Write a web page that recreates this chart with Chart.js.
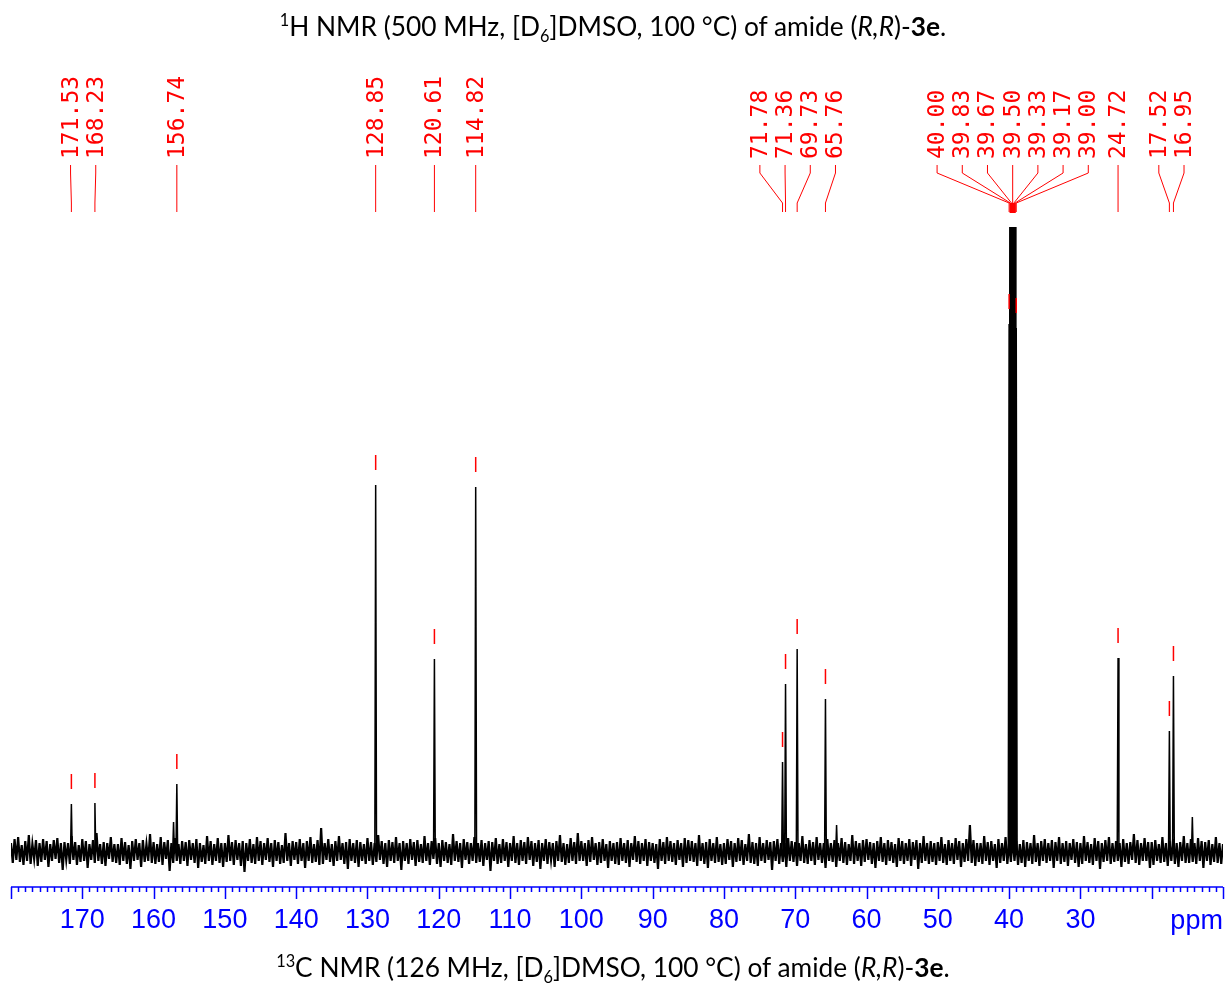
<!DOCTYPE html>
<html>
<head>
<meta charset="utf-8">
<title>13C NMR spectrum</title>
<script src="https://cdn.jsdelivr.net/npm/chart.js@4/dist/chart.umd.min.js"></script>
<style>
  html, body { margin: 0; padding: 0; background: #fff; }
  #wrap { position: relative; width: 1226px; height: 985px; overflow: hidden; }
  #chart { position: absolute; left: 0; top: 0; }
  .cap { position: absolute; left: 0; width: 1226px; text-align: center; white-space: nowrap;
         font-family: Lato, "Open Sans", sans-serif; font-size: 26.3px; color: #000; }
  .cap sup, .cap sub { font-size: 0.62em; line-height: 0; }
</style>
</head>
<body>
<div id="wrap">
  <canvas id="chart" width="1226" height="985"></canvas>
  <div class="cap" style="top:10px"><sup>1</sup>H NMR (500 MHz, [D<sub>6</sub>]DMSO, 100 °C) of amide (<i>R,R</i>)-<b>3e</b>.</div>
  <div class="cap" style="top:951px"><sup>13</sup>C NMR (126 MHz, [D<sub>6</sub>]DMSO, 100 °C) of amide (<i>R,R</i>)-<b>3e</b>.</div>
</div>
<script>
// picked peaks (ppm) and their heights above the baseline (arbitrary units)
const shifts  = [171.53, 168.23, 156.74, 128.85, 120.61, 114.82, 71.78, 71.36, 69.73, 65.76,
                 40.00, 39.83, 39.67, 39.50, 39.33, 39.17, 39.00, 24.72, 17.52, 16.95];
const heights = [48, 49, 68, 367, 193, 365, 90, 168, 203, 153,
                 528, 1590, 3180, 3710, 3180, 1590, 524, 194, 121, 176];

// small unpicked signals
const minorShifts  = [157.2, 64.2, 14.3];
const minorHeights = [30, 27, 35];

// baseline trace from 180 ppm downwards, one value every 0.25 ppm
const noiseStart = 180;
const noiseStep = 0.25;
const noise = [
  9,-11,13,-8,15,-10,7,-13,11,-9,17,-12,8,-7,12,-14,9,-10,13,-8,
  11,-15,8,-9,12,-7,14,-11,9,-18,10,-8,9,-12,16,-8,10,-13,7,-10,
  13,-9,11,-16,8,-8,12,-11,19,-9,8,-12,10,-14,9,-7,15,-10,8,-11,
  8,-13,14,-9,10,-12,7,-17,11,-9,13,-8,9,-15,12,-10,8,-9,18,-11,
  10,-12,8,-10,15,-13,10,-7,12,-19,9,-11,14,-9,8,-12,11,-9,10,-14,
  12,-8,9,-11,13,-16,9,-10,7,-12,16,-9,11,-13,8,-9,14,-11,9,-15,
  9,-10,17,-9,10,-13,12,-8,9,-14,11,-20,9,-9,13,-11,8,-12,15,-9,
  11,-13,9,-8,14,-10,9,-15,12,-9,10,-12,7,-11,19,-9,9,-14,11,-8,
  10,-12,13,-9,9,-16,11,-9,15,-11,8,-10,12,-13,24,-12,9,-8,13,-10,
  8,-14,11,-9,16,-8,9,-12,10,-17,13,-9,9,-11,12,-15,10,-9,8,-12,
  14,-9,10,-13,9,-10,17,-8,11,-12,9,-15,12,-9,10,-11,15,-9,9,-18,
  11,-9,9,-12,13,-8,10,-14,12,-10,8,-11,16,-9,9,-13,11,-7,14,-12,
  9,-15,12,-9,10,-11,8,-13,18,-9,11,-10,9,-16,13,-8,10,-12,9,-9,
  15,-11,9,-10,12,-14,9,-8,11,-19,10,-9,14,-12,8,-11,13,-9,10,-15,
  9,-9,16,-11,9,-13,12,-9,10,-12,15,-8,11,-14,9,-10,12,-17,9,-9,
  13,-12,10,-8,9,-15,11,-9,17,-10,9,-13,8,-11,14,-9,10,-12,19,-9,
  11,-9,9,-14,12,-10,15,-8,9,-13,10,-11,13,-9,8,-16,11,-9,9,-12,
  10,-13,14,-9,9,-11,12,-15,9,-8,16,-10,11,-12,9,-9,13,-14,10,-9,
  9,-11,8,-17,13,-9,10,-12,15,-9,11,-10,9,-13,12,-8,9,-15,14,-11,
  12,-9,11,-10,9,-14,17,-9,9,-12,10,-16,13,-9,9,-11,15,-10,8,-13,
  9,-12,13,-8,11,-15,9,-10,14,-9,12,-13,8,-9,18,-11,10,-12,9,-14,
  15,-9,9,-11,12,-8,10,-18,11,-9,13,-12,9,-10,9,-15,14,-9,11,-10,
  10,-14,9,-9,16,-11,8,-12,12,-9,10,-13,15,-8,9,-11,9,-16,13,-9,
  9,-10,12,-15,9,-9,14,-11,10,-13,8,-9,17,-12,11,-9,9,-14,12,-10,
  13,-8,10,-12,9,-16,11,-9,15,-10,9,-13,12,-9,10,-11,8,-15,14,-9,
  11,-12,9,-9,13,-14,10,-8,12,-17,9,-11,16,-9,9,-12,11,-10,9,-13,
  10,-9,15,-11,8,-13,12,-9,9,-12,14,-8,11,-15,9,-10,13,-9,27,-11,
  12,-14,9,-10,9,-12,16,-9,10,-13,11,-9,8,-16,13,-11,9,-9,15,-12,
  9,-10,14,-9,11,-13,8,-11,12,-15,10,-9,9,-12,17,-10,9,-14,11,-9,
  13,-11,9,-9,12,-16,10,-9,15,-12,9,-10,11,-14,9,-8,13,-11,10,-15,
  9,-12,16,-9,10,-11,8,-13,14,-9,11,-17,9,-10,12,-9,15,-12,9,-10,
  11,-9,9,-15,13,-10,9,-12,10,-8,18,-11,12,-13,9,-9,14,-9,10,-16,
  10,-13,12,-9,8,-11,15,-10,9,-14,11,-9,13,-12,9,-15,10,-9,16,-11,
  9,-11,13,-10,9,-12,14,-9,11,-16,10,-9,12,-13,8,-10,15,-11,9,-12,
  8
];

// axis
const ppmMax = 180;
const ppmMin = 10;
const tickLabels = [170, 160, 150, 140, 130, 120, 110, 100, 90, 80, 70, 60, 50, 40, 30];

const RED = '#ff0000';
const BLUE = '#0000ff';
const AXIS_FONT = '"Liberation Sans", Arial, sans-serif';

const baselineData = noise.map((v, i) => ({ x: noiseStart - i * noiseStep, y: v }));

// each line is a narrow triangle on the baseline, separated by gaps
function peakTrace(ppm, hts) {
  const pts = [];
  ppm.forEach((p, i) => {
    pts.push({ x: p + 0.12, y: 0 }, { x: p, y: hts[i] }, { x: p - 0.12, y: 0 }, { x: p - 0.13, y: null });
  });
  return pts;
}

// spread labels so they keep a minimum distance, groups centred on their peaks
function spreadLabels(xs, gap) {
  let groups = xs.map((x, i) => ({ idx: [i], xs: [x] }))
    .sort((a, b) => a.xs[0] - b.xs[0]);
  const place = g => {
    const c = g.xs.reduce((s, v) => s + v, 0) / g.xs.length;
    g.pos = g.idx.map((_, k) => c + (k - (g.idx.length - 1) / 2) * gap);
  };
  groups.forEach(place);
  let merged = true;
  while (merged) {
    merged = false;
    for (let i = 0; i < groups.length - 1; i++) {
      const a = groups[i], b = groups[i + 1];
      if (a.pos[a.pos.length - 1] + gap > b.pos[0] + 0.01) {
        const g = { idx: a.idx.concat(b.idx), xs: a.xs.concat(b.xs) };
        place(g);
        groups.splice(i, 2, g);
        merged = true;
        break;
      }
    }
  }
  const out = [];
  groups.forEach(g => g.idx.forEach((id, k) => { out[id] = g.pos[k]; }));
  return out;
}

const annotations = {
  id: 'nmrAnnotations',
  afterDraw(chart) {
    const ctx = chart.ctx;
    const xs = chart.scales.x, ys = chart.scales.y;
    const area = chart.chartArea;

    // ppm axis: line, ticks every 1 ppm, longer every 10
    ctx.save();
    ctx.strokeStyle = BLUE;
    ctx.lineWidth = 1.5;
    ctx.beginPath();
    ctx.moveTo(xs.getPixelForValue(ppmMax), area.bottom);
    ctx.lineTo(xs.getPixelForValue(ppmMin), area.bottom);
    for (let v = ppmMin; v <= ppmMax; v++) {
      const px = Math.round(xs.getPixelForValue(v)) + 0.5;
      const len = v % 10 === 0 ? 12 : 5;
      ctx.moveTo(px, area.bottom);
      ctx.lineTo(px, area.bottom + len);
    }
    ctx.stroke();
    ctx.fillStyle = BLUE;
    ctx.font = '27px ' + AXIS_FONT;
    ctx.textAlign = 'center';
    ctx.textBaseline = 'alphabetic';
    ctx.fillText('ppm', xs.getPixelForValue(13.7), area.bottom + 42);
    ctx.restore();

    // peak markers above each picked line
    ctx.save();
    ctx.strokeStyle = RED;
    ctx.lineWidth = 1.5;
    ctx.beginPath();
    shifts.forEach((s, i) => {
      const px = xs.getPixelForValue(s);
      const top = ys.getPixelForValue(heights[i]);
      let y1 = top - 30, y2 = top - 15;
      if (top < area.top) { y1 = area.top - 24; y2 = area.top - 14; }
      ctx.moveTo(px, y1);
      ctx.lineTo(px, y2);
    });
    ctx.stroke();
    ctx.restore();

    // shift labels with leader lines
    const peakX = shifts.map(s => xs.getPixelForValue(s));
    const labelX = spreadLabels(peakX, 25.2);
    ctx.save();
    ctx.strokeStyle = RED;
    ctx.lineWidth = 1;
    ctx.beginPath();
    shifts.forEach((s, i) => {
      ctx.moveTo(labelX[i], 165);
      ctx.lineTo(labelX[i], 173);
      ctx.lineTo(peakX[i], 203);
      ctx.lineTo(peakX[i], 212);
    });
    ctx.stroke();
    ctx.fillStyle = RED;
    ctx.font = '23px "DejaVu Sans Mono", monospace';
    ctx.textAlign = 'left';
    ctx.textBaseline = 'middle';
    shifts.forEach((s, i) => {
      ctx.save();
      ctx.translate(labelX[i], 159);
      ctx.rotate(-Math.PI / 2);
      ctx.fillText(s.toFixed(2), 0, 1);
      ctx.restore();
    });
    ctx.restore();
  }
};

new Chart(document.getElementById('chart'), {
  type: 'line',
  data: {
    datasets: [
      { data: baselineData, borderColor: '#000', borderWidth: 2.2, pointRadius: 0, tension: 0 },
      { data: peakTrace(shifts, heights), borderColor: '#000', borderWidth: 1.5, pointRadius: 0, tension: 0, spanGaps: false },
      { data: peakTrace(minorShifts, minorHeights), borderColor: '#000', borderWidth: 1.5, pointRadius: 0, tension: 0, spanGaps: false }
    ]
  },
  options: {
    responsive: false,
    devicePixelRatio: 1,
    animation: false,
    events: [],
    layout: { padding: { top: 227, left: 11, right: 3, bottom: 0 } },
    plugins: { legend: { display: false }, tooltip: { enabled: false } },
    scales: {
      x: {
        type: 'linear',
        reverse: true,
        min: ppmMin,
        max: ppmMax,
        grid: { display: false, drawTicks: false },
        border: { display: false },
        ticks: {
          stepSize: 10,
          autoSkip: false,
          maxRotation: 0,
          padding: 17,
          color: BLUE,
          font: { family: AXIS_FONT, size: 27 },
          callback: v => tickLabels.includes(v) ? String(v) : ''
        },
        afterFit: scale => {
          scale.height = 98;
          scale.paddingLeft = 0;
          scale.paddingRight = 0;
        }
      },
      y: { display: false, min: -35, max: 625 }
    }
  },
  plugins: [annotations]
});
</script>
</body>
</html>
